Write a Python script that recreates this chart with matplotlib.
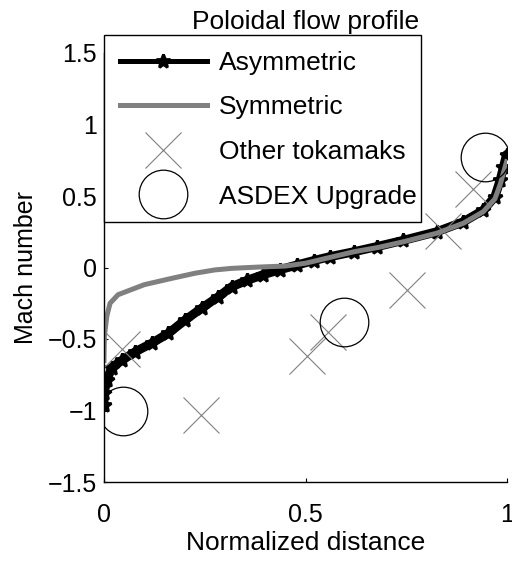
import matplotlib
matplotlib.use("Agg")
import matplotlib.pyplot as plt
from matplotlib.patches import Rectangle

plt.rcParams['font.family'] = ['Liberation Sans', 'DejaVu Sans']

# Asymmetric model curve
asym_x = [0.0, 0.0, 0.007, 0.019, 0.044, 0.077, 0.118, 0.16, 0.20, 0.242, 0.284,
          0.317, 0.355, 0.395, 0.437, 0.478, 0.52, 0.561, 0.62, 0.677, 0.743,
          0.826, 0.892, 0.941, 0.97, 0.983, 0.991, 0.999]
asym_y = [-0.96, -0.88, -0.79, -0.70, -0.65, -0.59, -0.53, -0.46, -0.37, -0.285, -0.204,
          -0.134, -0.09, -0.05, -0.015, 0.017, 0.048, 0.076, 0.11, 0.146, 0.19,
          0.25, 0.32, 0.40, 0.495, 0.61, 0.70, 0.79]

# Symmetric model curve
sym_x = [0.0, 0.001, 0.007, 0.015, 0.035, 0.10, 0.168, 0.226, 0.275, 0.317, 0.36,
         0.40, 0.45, 0.50, 0.56, 0.62, 0.68, 0.743, 0.826, 0.892, 0.941, 0.97,
         0.983, 0.991, 0.999]
sym_y = [-0.65, -0.48, -0.34, -0.25, -0.19, -0.12, -0.076, -0.04, -0.017, -0.006, 0.0,
         0.005, 0.01, 0.03, 0.07, 0.11, 0.14, 0.18, 0.24, 0.31, 0.39, 0.48,
         0.58, 0.66, 0.74]

# Other tokamaks measurements
tok_x = [0.045, 0.241, 0.504, 0.556, 0.752, 0.842, 0.915]
tok_y = [-0.57, -1.03, -0.62, -0.45, -0.157, 0.255, 0.55]

# ASDEX Upgrade measurements
aug_x = [0.046, 0.595, 0.945]
aug_y = [-1.0, -0.38, 0.775]

fig = plt.figure(figsize=(5.12, 5.65), dpi=100)
ax = fig.add_axes([104/512, 83/565, 403/512, 429/565])

# wide underlay giving the thick band of the asymmetric curve
ax.plot(asym_x, asym_y, color='black', lw=6.5, solid_capstyle='round',
        solid_joinstyle='round')
ax.plot(asym_x, asym_y, color='black', lw=3.6, marker='*', ms=10, mew=2,
        label='Asymmetric')
ax.plot(sym_x, sym_y, color='#808080', lw=3.6, label='Symmetric')
ax.plot(tok_x, tok_y, ls='none', marker='x', ms=26, mew=0.8, color='#808080',
        label='Other tokamaks')
ax.plot(aug_x, aug_y, ls='none', marker='o', ms=35, mew=0.9, mfc='none',
        mec='black', label='ASDEX Upgrade')

ax.set_xlim(0, 1)
ax.set_ylim(-1.5, 1.5)
ax.set_xticks([0, 0.5, 1])
ax.set_xticklabels(['0', '0.5', '1'])
ax.set_yticks([-1.5, -1, -0.5, 0, 0.5, 1, 1.5])
ax.set_yticklabels(['\u22121.5', '\u22121', '\u22120.5', '0', '0.5', '1', '1.5'])
ax.tick_params(direction='in', length=3, width=0.8, labelsize=18)
ax.tick_params(axis='y', pad=5)
ax.tick_params(axis='x', pad=15)
ax.spines['top'].set_visible(False)
ax.spines['right'].set_visible(False)
ax.spines['left'].set_linewidth(1.0)
ax.spines['bottom'].set_linewidth(1.0)

ax.set_title('Poloidal flow profile', fontsize=19, pad=17)
ax.set_xlabel('Normalized distance', fontsize=19, labelpad=3)
ax.set_ylabel('Mach number', fontsize=18, labelpad=7)

# legend frame (drawn separately so its padding matches the original box)
frame = Rectangle((0, 0.606), 0.787, 1.042 - 0.606, transform=ax.transAxes,
                  facecolor='white', edgecolor='black', lw=1.0, clip_on=False,
                  zorder=4.5)
ax.add_patch(frame)

leg = ax.legend(loc='upper left', bbox_to_anchor=(0, 1.042), borderaxespad=0,
                fontsize=19, numpoints=1, handlelength=3.3, handletextpad=0.45,
                labelspacing=0.78, borderpad=0.6, frameon=False)
leg.set_zorder(5)

fig.savefig('out.png', dpi=100)
